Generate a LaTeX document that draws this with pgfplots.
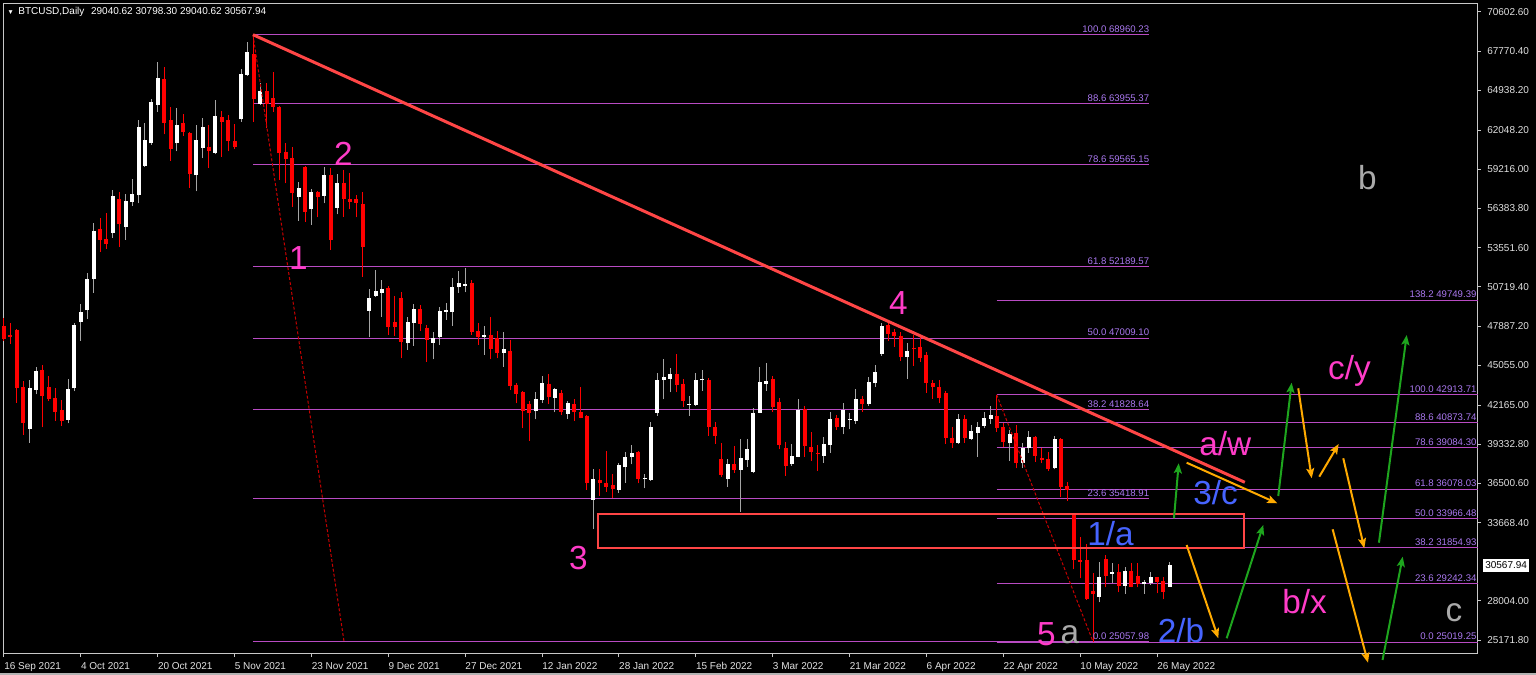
\documentclass[border=0pt]{standalone}
\usepackage{pgfplots}
\usepackage{pgfplotstable}
\pgfplotsset{compat=1.18}
\usepackage{fontspec}
\setmainfont{Liberation Sans}
\usetikzlibrary{arrows.meta}

\definecolor{fibline}{RGB}{185,75,195}
\definecolor{fibtxt}{RGB}{170,120,240}
\definecolor{trend}{RGB}{255,70,70}
\definecolor{dotred}{RGB}{200,0,0}
\definecolor{wave}{RGB}{255,60,200}
\definecolor{waveblue}{RGB}{70,100,255}
\definecolor{wavegray}{RGB}{170,170,170}
\definecolor{arrg}{RGB}{30,165,30}
\definecolor{arro}{RGB}{255,170,0}
\definecolor{wick}{RGB}{165,165,165}
\definecolor{frame}{RGB}{200,200,200}
\definecolor{axtxt}{RGB}{225,225,225}

\pgfplotstableread{
i o h l c
4 40461 43982 39449 43380
5 43284 44899 42945 44609
10 41089 44055 40847 43332
11 43380 48129 43164 47985
12 48153 49480 46828 48924
13 49021 51698 48419 51312
14 51288 55364 50299 54785
17 54640 57726 54278 57292
19 55050 57437 54109 56931
20 56859 58522 56593 57413
21 57340 62790 56762 62284
22 59462 62597 59414 61344
23 61103 64285 61006 64068
24 63899 66961 63369 65828
27 61103 63634 60524 62428
30 58787 62428 57630 61344
31 60789 62910 60017 62259
33 60427 64237 60307 63079
37 62838 66455 62669 66093
38 66045 68432 65973 67709
40 63947 65442 63899 64888
46 57244 58329 55508 57871
48 56328 57775 55194 57606
50 57316 59366 56762 58787
52 56448 58859 55966 58208
57 48998 50540 47067 49938
58 50082 51939 50010 50444
59 50275 51216 48563 50589
63 46634 48563 46152 48177
64 48129 49480 46441 49118
67 46682 47478 45477 46996
68 47068 49287 46514 48974
69 48924 49528 48322 49046
70 48924 51336 47888 50733
71 50685 51867 50299 50974
72 50782 52083 50323 50902
75 47068 47912 45790 47237
78 45959 47478 44947 46224
83 41715 43089 41136 42607
84 42535 44295 42342 43765
86 42704 43427 41643 43331
88 41546 42462 41161 42318
92 35301 37543 33200 36796
96 36024 38002 35832 37833
97 37664 38749 36555 38411
98 38411 39279 37881 38725
100 36820 37157 36145 36916
101 36748 40919 36700 40557
102 41619 44512 41402 43981
103 43981 45501 42583 44199
104 44078 44850 43089 44416
107 42173 42824 41402 42245
108 42173 44512 42125 43981
109 43957 44729 43210 44054
113 36820 38267 36265 37881
115 37471 39713 34433 38339
116 38194 39689 37712 38990
117 37351 41932 37230 41570
118 41619 44946 41571 43861
119 43692 45236 43210 43933
123 37881 39328 37785 38484
124 38436 42583 38387 41811
128 38508 39882 38002 39352
129 39279 41643 38725 41185
131 40558 42294 40051 41811
132 41088 41570 40413 41160
133 41040 43331 40799 42583
135 42245 44175 42125 43837
136 43741 45067 43500 44536
137 45863 48128 45742 47888
141 45670 46682 44054 46104
149 39448 41498 39352 41185
151 39714 40727 39641 40292
152 40172 40919 38436 40606
153 40655 41691 40486 41257
154 41185 42125 40799 41426
157 39400 40364 38122 40075
159 37953 39448 37591 39038
160 39038 40316 38725 39858
164 37591 39954 37519 39713
171 28308 30840 27898 29707
173 29948 30719 29272 30092
175 29104 30478 28501 30165
178 29200 29514 28501 29369
179 29272 30117 29152 29707
182 29040.62 30798.30 29040.62 30567.94
}\bull

\pgfplotstableread{
i o h l c
0 47888 48443 46828 46924
1 47237 48129 46586 47117
2 47599 47647 42342 43429
3 43477 43910 40003 40847
6 44706 45067 40558 42849
7 43477 44296 42487 42631
8 42680 43380 41040 41692
9 41812 42535 40679 41040
15 54905 55726 53265 54109
16 54158 56063 53458 53820
18 57051 57606 53627 55291
25 65731 66600 61753 62573
26 62790 63706 59848 60668
28 62549 63224 61632 61946
29 61850 61946 57871 58860
32 60861 62428 59342 60524
34 62983 63465 60138 62669
35 62790 63176 60524 61296
36 61271 62525 60668 60837
39 67540 68960 62669 64309
41 64864 65442 62187 63947
42 64357 66238 63393 63754
43 63707 63803 58450 60427
44 60499 61102 58208 59945
45 60017 60861 56521 57485
47 59366 59462 55436 56159
49 57606 57654 55749 57244
51 58787 59294 53386 54109
53 58256 59173 55797 57051
54 57075 58980 56352 56883
55 57051 57365 55749 56762
56 56714 57606 51457 53627
60 50661 50782 47237 47840
61 48177 50058 47165 47840
62 49938 50372 45549 46755
65 49118 49383 47527 48033
66 47768 47961 45308 46875
73 51023 51216 47237 47478
74 47527 48129 46514 47117
76 47237 48563 45477 46200
77 46996 47551 45549 45911
79 46079 46875 43258 43572
80 43620 43733 42294 42969
81 43089 43186 40485 41763
82 42270 42462 39569 41619
85 43716 44391 42245 42776
87 43041 43234 41450 41643
89 42221 42607 41016 41643
90 41643 43451 41209 41257
91 41377 41450 36024 36507
93 36724 37543 35615 36555
94 36555 38846 35904 36265
95 36386 37157 35422 36097
99 38797 38846 36507 36796
105 44416 45838 43089 43620
106 43692 44030 42053 42487
110 43981 44150 39955 40606
111 40582 40919 39352 39931
112 38267 39448 36989 37110
114 37881 39207 37278 37471
120 44054 44271 41691 42004
121 42390 42655 38966 39279
122 39038 39479 37061 37785
125 41860 42101 38436 39207
126 39110 40196 38122 38749
127 38725 39279 37423 38629
130 41257 41450 40365 40606
134 42583 42824 41691 42245
138 47936 48100 46827 47309
139 47430 47647 46393 47165
140 47189 47478 45380 45621
142 46320 47237 45019 46224
143 46393 47068 45308 45549
144 45790 45983 43065 43789
145 43741 43982 42607 43451
146 43451 43982 42294 42704
147 43017 43186 39352 39762
148 39810 40606 39086 39400
150 41185 41450 39448 39810
155 41378 42914 40245 40486
156 40606 40847 39159 39520
158 40123 40726 37591 38002
161 39858 39930 38074 38484
162 38363 39038 37953 38194
163 38243 38797 37398 37519
165 39713 39810 35542 36265
166 36338 36579 35229 36024
167 34288 34337 30285 30960
168 30960 32648 29634 30840
169 30960 32094 28067 28139
170 28718 30044 25058 28477
172 31009 31322 28983 29803
174 30117 30671 28621 29104
176 30165 30719 28983 29031
177 29827 30719 28983 29224
180 29707 29755 28549 29345
181 29441 29755 28115 28669
}\bear

\newcommand{\smfont}{\fontsize{7.5}{9}\selectfont}
\newcommand{\fibfont}{\fontsize{7.2}{9}\selectfont}
\newcommand{\wavefont}{\fontsize{25}{25}\selectfont}

\begin{document}
\begin{tikzpicture}
\useasboundingbox (0,0) rectangle (1152pt,506.25pt);
\fill[black] (0,0) rectangle (1152pt,506.25pt);
\fill[gray!60] (0,0) rectangle (1152pt,1.5pt);
\begin{axis}[
  at={(2.25pt,15.75pt)}, anchor=south west,
  scale only axis, width=1106.25pt, height=487.5pt,
  xmin=-0.156, xmax=230.1, ymin=24160.3, ymax=71181.3,
  clip=false,
  axis line style={frame, line width=0.75pt},
  tick align=outside, major tick length=2.25pt,
  tick style={frame, line width=0.75pt},
  xtick pos=left, ytick pos=right, yticklabel pos=right,
  scaled y ticks=false, scaled x ticks=false,
  xtick={0,12,24,36,48,60,72,84,96,108,120,132,144,156,168,180},
  xticklabels={16 Sep 2021,4 Oct 2021,20 Oct 2021,5 Nov 2021,23 Nov 2021,9 Dec 2021,27 Dec 2021,12 Jan 2022,28 Jan 2022,15 Feb 2022,3 Mar 2022,21 Mar 2022,6 Apr 2022,22 Apr 2022,10 May 2022,26 May 2022},
  xticklabel style={anchor=north west, inner sep=0pt, yshift=-3.75pt, font=\smfont, text=axtxt},
  ytick={70602.60,67770.40,64938.20,62048.20,59216.00,56383.80,53551.60,50719.40,47887.20,45055.00,42165.00,39332.80,36500.60,33668.40,28004.00,25171.80},
  yticklabels={70602.60,67770.40,64938.20,62048.20,59216.00,56383.80,53551.60,50719.40,47887.20,45055.00,42165.00,39332.80,36500.60,33668.40,28004.00,25171.80},
  yticklabel style={anchor=west, inner sep=0pt, xshift=4.5pt, font=\smfont, text=axtxt},
]
% fib set 1
\addplot[fibline, line width=0.75pt] coordinates {(38.87,68960.23) (178.8,68960.23)};
\addplot[fibline, line width=0.75pt] coordinates {(38.87,63955.37) (178.8,63955.37)};
\addplot[fibline, line width=0.75pt] coordinates {(38.87,59565.15) (178.8,59565.15)};
\addplot[fibline, line width=0.75pt] coordinates {(38.87,52189.57) (178.8,52189.57)};
\addplot[fibline, line width=0.75pt] coordinates {(38.87,47009.10) (178.8,47009.10)};
\addplot[fibline, line width=0.75pt] coordinates {(38.87,41828.64) (178.8,41828.64)};
\addplot[fibline, line width=0.75pt] coordinates {(38.87,35418.91) (178.8,35418.91)};
\addplot[fibline, line width=0.75pt] coordinates {(38.87,25057.98) (178.8,25057.98)};
% fib set 2
\addplot[fibline, line width=0.75pt] coordinates {(154.97,49749.39) (230.1,49749.39)};
\addplot[fibline, line width=0.75pt] coordinates {(154.97,42913.71) (230.1,42913.71)};
\addplot[fibline, line width=0.75pt] coordinates {(154.97,40873.74) (230.1,40873.74)};
\addplot[fibline, line width=0.75pt] coordinates {(154.97,39084.30) (230.1,39084.30)};
\addplot[fibline, line width=0.75pt] coordinates {(154.97,36078.03) (230.1,36078.03)};
\addplot[fibline, line width=0.75pt] coordinates {(154.97,33966.48) (230.1,33966.48)};
\addplot[fibline, line width=0.75pt] coordinates {(154.97,31854.93) (230.1,31854.93)};
\addplot[fibline, line width=0.75pt] coordinates {(154.97,29242.34) (230.1,29242.34)};
\addplot[fibline, line width=0.75pt] coordinates {(154.97,25019.25) (230.1,25019.25)};

% candles
\addplot[wick, line width=0.75pt, quiver={u=0,v=\thisrow{h}-\thisrow{l}}] table[x=i,y=l] {\bull};
\addplot[white, line width=3pt, quiver={u=0,v=\thisrow{c}-\thisrow{o}}] table[x=i,y=o] {\bull};
\addplot[red, line width=0.75pt, quiver={u=0,v=\thisrow{h}-\thisrow{l}}] table[x=i,y=l] {\bear};
\addplot[red, line width=3pt, quiver={u=0,v=\thisrow{c}-\thisrow{o}}] table[x=i,y=o] {\bear};

% trend lines
\addplot[dotred, line width=0.75pt, dash pattern=on 2.25pt off 1.5pt] coordinates {(38.87,68960.23) (53.08,25057.98)};
\addplot[dotred, line width=0.75pt, dash pattern=on 2.25pt off 1.5pt] coordinates {(154.97,42913.71) (170.0,25057.98)};
\addplot[trend, line width=2.25pt] coordinates {(38.87,68960.23) (193.7,36581)};
\addplot[trend, line width=1.5pt] coordinates {(92.73,34288) (193.62,34288) (193.62,31807) (92.73,31807)} -- cycle;

% arrows
\addplot[arrg, line width=1.5pt, -{Stealth[length=7.5pt,width=6pt,inset=1.5pt]}] coordinates {(182.64,33977) (183.38,37956)};
\addplot[arro, line width=1.5pt, -{Stealth[length=7.5pt,width=6pt,inset=1.5pt]}] coordinates {(184.62,37999) (198.77,35062)};
\addplot[arro, line width=1.5pt, -{Stealth[length=7.5pt,width=6pt,inset=1.5pt]}] coordinates {(184.62,32045) (189.56,25296)};
\addplot[arrg, line width=1.5pt, -{Stealth[length=7.5pt,width=6pt,inset=1.5pt]}] coordinates {(190.87,25296) (196.58,33492)};
\addplot[arrg, line width=1.5pt, -{Stealth[length=7.5pt,width=6pt,inset=1.5pt]}] coordinates {(198.92,35590) (201.01,43786)};
\addplot[arro, line width=1.5pt, -{Stealth[length=7.5pt,width=6pt,inset=1.5pt]}] coordinates {(202.04,43381) (204.14,36870)};
\addplot[arro, line width=1.5pt, -{Stealth[length=7.5pt,width=6pt,inset=1.5pt]}] coordinates {(205.32,36986) (208.35,39352)};
\addplot[arro, line width=1.5pt, -{Stealth[length=7.5pt,width=6pt,inset=1.5pt]}] coordinates {(209.07,38317) (212.35,31807)};
\addplot[arrg, line width=1.5pt, -{Stealth[length=7.5pt,width=6pt,inset=1.5pt]}] coordinates {(214.64,32212) (218.97,47237)};
\addplot[arro, line width=1.5pt, -{Stealth[length=7.5pt,width=6pt,inset=1.5pt]}] coordinates {(207.41,33181) (212.93,23531)};
\addplot[arrg, line width=1.5pt, -{Stealth[length=7.5pt,width=6pt,inset=1.5pt]}] coordinates {(215.2,23726) (218.35,31199)};

% fib labels
\begin{scope}[every node/.style={anchor=south east, inner sep=0pt, yshift=1.5pt, font=\fibfont, text=fibtxt}]
\node at (axis cs:178.8,68960.23) {100.0 68960.23};
\node at (axis cs:178.8,63955.37) {88.6 63955.37};
\node at (axis cs:178.8,59565.15) {78.6 59565.15};
\node at (axis cs:178.8,52189.57) {61.8 52189.57};
\node at (axis cs:178.8,47009.10) {50.0 47009.10};
\node at (axis cs:178.8,41828.64) {38.2 41828.64};
\node at (axis cs:178.8,35418.91) {23.6 35418.91};
\node at (axis cs:178.8,25057.98) {0.0 25057.98};
\node at (axis cs:229.9,49749.39) {138.2 49749.39};
\node at (axis cs:229.9,42913.71) {100.0 42913.71};
\node at (axis cs:229.9,40873.74) {88.6 40873.74};
\node at (axis cs:229.9,39084.30) {78.6 39084.30};
\node at (axis cs:229.9,36078.03) {61.8 36078.03};
\node at (axis cs:229.9,33966.48) {50.0 33966.48};
\node at (axis cs:229.9,31854.93) {38.2 31854.93};
\node at (axis cs:229.9,29242.34) {23.6 29242.34};
\node at (axis cs:229.9,25019.25) {0.0 25019.25};
\end{scope}

% wave labels
\begin{scope}[every node/.style={anchor=base, inner sep=0pt, font=\wavefont}]
\node[text=wave] at (axis cs:45.97,51939) {1};
\node[text=wave] at (axis cs:53.0,59462) {2};
\node[text=wave] at (axis cs:89.68,30237) {3};
\node[text=wave] at (axis cs:139.63,48684) {4};
\node[text=wave] at (axis cs:162.74,24811) {5};
\node[text=wavegray] at (axis cs:166.41,24956) {a};
\node[text=waveblue] at (axis cs:172.73,31973) {1/a};
\node[text=waveblue] at (axis cs:189.12,34939) {3/c};
\node[text=waveblue] at (axis cs:183.73,25028) {2/b};
\node[text=wave] at (axis cs:190.65,38484) {a/w};
\node[text=wave] at (axis cs:210.04,44032) {c/y};
\node[text=wave] at (axis cs:203.04,27105) {b/x};
\node[text=wavegray] at (axis cs:212.85,57798) {b};
\node[text=wavegray] at (axis cs:226.35,26497) {c};
\end{scope}

% current price label
\node[anchor=west, fill=white, text=black, font=\smfont, inner xsep=1.5pt, inner ysep=2pt, xshift=3.75pt] at (axis cs:230.1,30567.94) {30567.94};
\end{axis}
\node[anchor=west, inner sep=0pt, text=white, font=\smfont] at (5.4pt,497.5pt) {{\fontsize{5}{5}\selectfont ▼}\hspace{3.2pt}BTCUSD,Daily\hspace{5pt}29040.62 30798.30 29040.62 30567.94};
\end{tikzpicture}
\end{document}
